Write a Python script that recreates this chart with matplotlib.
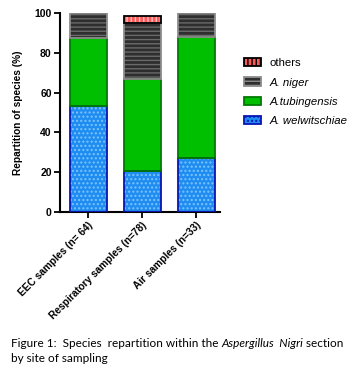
import matplotlib
matplotlib.use("Agg")
import matplotlib.pyplot as plt
from matplotlib.patches import Patch
import numpy as np

categories = ["EEC samples (n= 64)", "Respiratory samples (n=78)", "Air samples (n=33)"]
welwitschiae = [53.1, 20.5, 27.3]
tubingensis = [34.4, 46.2, 60.6]
niger = [12.5, 28.2, 12.1]
others = [0.0, 3.8, 0.0]

series = [
    ("A. welwitschiae", welwitschiae, "#1E8CF0", "#7CC4FF", "....", "#0A14B4", "italic"),
    ("A.tubingensis", tubingensis, "#00BE00", "#1AD21A", "", "#007A00", "italic"),
    ("A. niger", niger, "#2E2E2E", "#6A6A6A", "----", "#8C8C8C", "italic"),
    ("others", others, "#FF5A5A", "#FFC0C0", "||||", "#000000", "normal"),
]

fig = plt.figure(figsize=(3.57, 3.74), dpi=100)
ax = fig.add_axes([0.168, 0.433, 0.448, 0.532])

x = np.arange(len(categories))
width = 0.685
bottom = np.zeros(len(categories))
handles = []
for name, vals, fc, hc, hatch, ec, style in series:
    vals = np.array(vals)
    mask = vals > 0
    ax.bar(x[mask], vals[mask], width, bottom=bottom[mask], color=fc,
           hatch=hatch if hatch else None, edgecolor=hc, linewidth=0, zorder=2)
    ax.bar(x[mask], vals[mask], width, bottom=bottom[mask], fill=False,
           edgecolor=ec, linewidth=1.3, zorder=3)
    bottom = bottom + vals
    handles.append(Patch(facecolor=fc, edgecolor=ec, hatch=hatch if hatch else None,
                         linewidth=1.3, label=name))

ax.set_xlim(-0.52, 2.44)
ax.set_ylim(0, 100)
ax.set_yticks([0, 20, 40, 60, 80, 100])
ax.set_xticks(x)
ax.set_xticklabels(categories, rotation=45, ha="right", rotation_mode="anchor",
                   fontsize=7.3, fontweight="bold", family="Liberation Sans")
for lab in ax.get_yticklabels():
    lab.set_fontsize(7.5)
    lab.set_fontweight("bold")
    lab.set_family("Liberation Sans")
ax.set_ylabel("Repartition of species (%)", fontsize=7.3, fontweight="bold",
              family="Liberation Sans", labelpad=8)
for s in ["top", "right"]:
    ax.spines[s].set_visible(False)
for s in ["left", "bottom"]:
    ax.spines[s].set_linewidth(1.5)
ax.tick_params(axis="both", width=1.3, length=4, pad=2)

leg_handles = handles[::-1]
leg = fig.legend(handles=leg_handles, loc="upper left", bbox_to_anchor=(0.655, 0.872),
                 frameon=False, handlelength=1.5, handleheight=0.75,
                 labelspacing=0.8, handletextpad=0.75,
                 prop={"family": "Liberation Sans", "size": 8.2})
for t, (_, _, _, _, _, _, style) in zip(leg.get_texts(), series[::-1]):
    t.set_fontstyle(style)

caption_parts = [("Figure 1:  Species  repartition within the ", "normal"),
                 ("Aspergillus  Nigri", "italic"),
                 (" section", "normal")]
renderer = fig.canvas.get_renderer()
xpos = 0.03
for txt, st in caption_parts:
    t = fig.text(xpos, 0.072, txt, fontsize=8.5, family="Lato", style=st, va="baseline")
    bb = t.get_window_extent(renderer=renderer)
    xpos += bb.width / fig.bbox.width
fig.text(0.03, 0.032, "by site of sampling", fontsize=8.5, family="Lato", va="baseline")

fig.savefig("out.png", dpi=100)
